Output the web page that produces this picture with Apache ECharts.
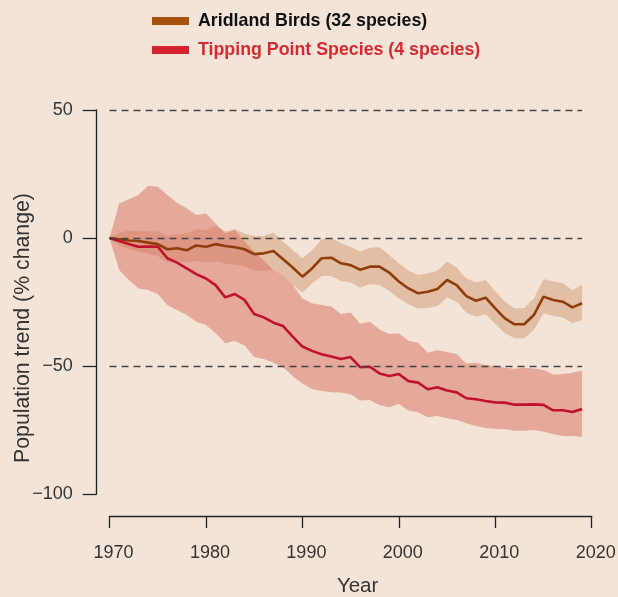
<!DOCTYPE html>
<html>
<head>
<meta charset="utf-8">
<script src="https://cdn.jsdelivr.net/npm/echarts@6/dist/echarts.min.js"></script>
<style>
  html, body { margin: 0; padding: 0; background: #f4e4d8; }
  #chart { width: 618px; height: 597px; }
</style>
</head>
<body>
<div id="chart"></div>
<script>
// -----------------------------
// DATA
// -----------------------------
const years = [
  1970, 1971, 1972, 1973, 1974, 1975, 1976, 1977, 1978, 1979,
  1980, 1981, 1982, 1983, 1984, 1985, 1986, 1987, 1988, 1989,
  1990, 1991, 1992, 1993, 1994, 1995, 1996, 1997, 1998, 1999,
  2000, 2001, 2002, 2003, 2004, 2005, 2006, 2007, 2008, 2009,
  2010, 2011, 2012, 2013, 2014, 2015, 2016, 2017, 2018, 2019
];

const aridMean = [
  0, -0.5, -1, -1.2, -1.8, -2.4, -4.4, -4, -4.8, -2.9,
  -3.4, -2.4, -3.1, -3.6, -4.4, -6.3, -6, -5.1, -8.3, -11.5,
  -15.1, -11.9, -7.9, -7.7, -9.9, -10.6, -12.4, -11.2, -11.2, -13.5,
  -17, -19.7, -21.6, -21, -19.9, -16.4, -18.4, -22.7, -24.5, -23.3,
  -27.5, -31.4, -33.7, -33.7, -30.1, -22.9, -24.2, -24.9, -27.1, -25.5
];
const aridUpper = [
  0, 2, 2.9, 2.7, 2.5, 2.6, 0.8, 1.5, 1.8, 3.4,
  3.1, 4.7, 2.5, 3.4, 1.8, 0.8, 0.8, 2.1, -1.4, -4.7,
  -7.9, -4.8, -0.5, -0.1, -2, -3.4, -5.3, -3.8, -3.6, -6.6,
  -9.9, -12.8, -14.5, -13.8, -12.8, -9.2, -11.5, -15.8, -17.4, -16.4,
  -20.7, -24.9, -27.5, -27.3, -23.6, -16, -17, -17.6, -20.3, -18.4
];
const aridLower = [
  0, -3.1, -4.2, -5.2, -6.2, -7, -9.5, -9.3, -9.5, -9,
  -9.6, -9.3, -10, -10.5, -11, -12.8, -12.8, -12.5, -15.1, -18.4,
  -21.4, -17.8, -14.8, -14.8, -16.8, -17.4, -19.4, -18.1, -18.4, -20.6,
  -23.6, -25.9, -27.5, -27.3, -26.6, -23.2, -24.9, -29.2, -30.7, -29.8,
  -33.6, -37.2, -39.2, -39.2, -35.9, -29.4, -30.5, -31.1, -33.3, -32
];

const tipMean = [
  0, -1.2, -2.3, -3.4, -3.3, -3.4, -7.9, -9.6, -11.9, -14.1,
  -15.8, -18.4, -23.2, -21.9, -24.2, -29.7, -31, -33.1, -34.4, -38.5,
  -42.4, -44.1, -45.4, -46.3, -47.3, -46.5, -50.5, -50.3, -52.9, -53.9,
  -53.1, -55.9, -56.5, -59.1, -58.3, -59.6, -60.3, -62.6, -63, -63.7,
  -64.2, -64.3, -65.1, -65.1, -65, -65.2, -67.3, -67.3, -68, -66.8
];
const tipUpper = [
  0, 13.5, 15.1, 16.8, 20.4, 20, 16.8, 13.8, 11.6, 9,
  9.6, 5.7, 1.8, 3.1, -1.4, -5.3, -8.8, -12.5, -14.8, -18.4,
  -23.6, -25.5, -26.2, -26.8, -29.7, -29.1, -33.5, -32.7, -35.7, -37.5,
  -37.2, -40.1, -40.9, -44.8, -43.8, -44.5, -45.3, -49, -48.7, -49.6,
  -50, -50.7, -51.1, -50.7, -51, -51.6, -53.3, -53.1, -52.6, -51.8
];
const tipLower = [
  0, -12.5, -16.4, -19.7, -20.3, -21.9, -26.2, -28.1, -30.1, -32.7,
  -34, -37.2, -41.1, -40.2, -42, -46.5, -47.3, -48.7, -50.5, -53.9,
  -56.8, -59, -59.8, -60.3, -60.4, -61, -63.5, -63.3, -65.2, -66.1,
  -64.8, -67.4, -68.1, -70, -69.5, -70.4, -71.1, -72.4, -73.4, -74.2,
  -74.5, -74.7, -75.3, -75.3, -75, -75.7, -76.6, -77.3, -77.3, -77.6
];

const refLevels = [50, 0, -50];
const yTicks = { min: -100, max: 50, step: 50 };
const xTicks = { min: 1970, max: 2020, step: 10 };

const aridName = "Aridland Birds (32 species)";
const tipName = "Tipping Point Species (4 species)";

// -----------------------------
// HELPERS
// -----------------------------
const FONT = "'Liberation Sans', Arial, Helvetica, sans-serif";
const pairs = (vals) => years.map((y, i) => [y, vals[i]]);
const triples = (lo, hi) => years.map((y, i) => [y, lo[i], hi[i]]);
const minus = (v) => String(v).replace("-", "\u2212");

// one polygon per band: upper edge left->right, lower edge right->left
function bandSeries(id, lo, hi, color, z) {
  return {
    name: id + "-band",
    type: "custom",
    silent: true,
    z: z,
    data: triples(lo, hi),
    encode: { x: 0, y: [1, 2] },
    renderItem: (params, api) => {
      if (params.dataIndex !== 0) return null;
      const top = years.map((y, i) => api.coord([y, hi[i]]));
      const bottom = years.map((y, i) => api.coord([y, lo[i]])).reverse();
      return {
        type: "polygon",
        shape: { points: top.concat(bottom) },
        style: { fill: color }
      };
    }
  };
}

const chart = echarts.init(document.getElementById("chart"), null, { renderer: "canvas" });

chart.setOption({
  backgroundColor: "#f4e4d8",
  animation: false,
  textStyle: { fontFamily: FONT },
  legend: {
    orient: "vertical",
    left: 147,
    top: 7,
    itemWidth: 37,
    itemHeight: 8,
    itemGap: 11,
    selectedMode: false,
    textStyle: { fontFamily: FONT, fontSize: 17.8, fontWeight: "bold", lineHeight: 18, padding: [0, 0, 0, 4] },
    data: [
      { name: aridName, icon: "rect", itemStyle: { color: "#a5520f" }, textStyle: { color: "#111111" } },
      { name: tipName, icon: "rect", itemStyle: { color: "#d4232f" }, textStyle: { color: "#d62a33" } }
    ]
  },
  grid: { left: 109.5, right: 26.3, top: 110, bottom: 103, outerBoundsMode: "none", containLabel: false },
  xAxis: {
    type: "value",
    min: xTicks.min,
    max: xTicks.max,
    interval: xTicks.step,
    offset: 22,
    name: "Year",
    nameLocation: "middle",
    nameGap: 60,
    nameMoveOverlap: false,
    nameTextStyle: { fontFamily: FONT, fontSize: 20.5, color: "#333333", padding: [0, 0, 0, 14] },
    axisLine: { show: true, onZero: false, lineStyle: { color: "#222222", width: 1.3 } },
    axisTick: { show: true, length: 12, lineStyle: { color: "#222222", width: 1.3 } },
    axisLabel: {
      fontFamily: FONT, fontSize: 18, color: "#333333", margin: 28,
      padding: [0, 0, 0, 8],
      formatter: (v) => String(v)
    },
    splitLine: { show: false }
  },
  yAxis: {
    type: "value",
    min: yTicks.min,
    max: yTicks.max,
    interval: yTicks.step,
    offset: 12.8,
    name: "Population trend (% change)",
    nameLocation: "middle",
    nameGap: 63,
    nameMoveOverlap: false,
    nameTextStyle: { fontFamily: FONT, fontSize: 21.3, color: "#333333", padding: [0, 52, 0, 0] },
    axisLine: { show: true, onZero: false, lineStyle: { color: "#222222", width: 1.3 } },
    axisTick: { show: true, length: 14, lineStyle: { color: "#222222", width: 1.3 } },
    axisLabel: { fontFamily: FONT, fontSize: 18, color: "#333333", margin: 24, formatter: minus },
    splitLine: { show: false }
  },
  series: [
    bandSeries("arid", aridLower, aridUpper, "rgba(200, 140, 92, 0.42)", 1),
    bandSeries("tip", tipLower, tipUpper, "rgba(214, 110, 94, 0.5)", 2),
    {
      name: aridName,
      type: "line",
      data: pairs(aridMean),
      showSymbol: false,
      color: "#a5520f",
      lineStyle: { color: "#8e3d0b", width: 2.6 },
      z: 3,
      markLine: {
        silent: true,
        symbol: "none",
        label: { show: false },
        lineStyle: { color: "#444444", width: 1.3, type: [7, 5] },
        data: refLevels.map((lv) => [
          { coord: [years[0], lv] },
          { coord: [years[years.length - 1], lv] }
        ])
      }
    },
    {
      name: tipName,
      type: "line",
      data: pairs(tipMean),
      showSymbol: false,
      color: "#d4232f",
      lineStyle: { color: "#c0112d", width: 2.6 },
      z: 4
    }
  ]
});
</script>
</body>
</html>
